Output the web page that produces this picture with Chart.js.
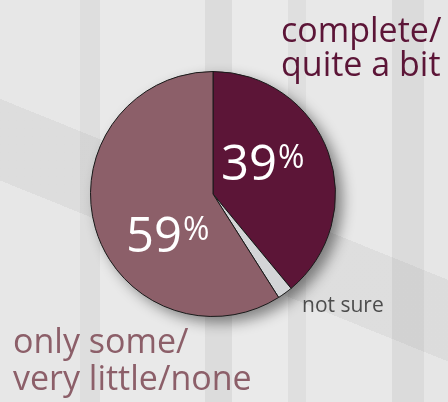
<!DOCTYPE html>
<html>
<head>
<meta charset="utf-8">
<script src="https://cdn.jsdelivr.net/npm/chart.js@4"></script>
<style>
  html, body { margin: 0; padding: 0; }
  body {
    width: 448px; height: 402px; overflow: hidden;
    background:
      linear-gradient(22deg, rgba(0,0,0,0) 0 38%, rgba(120,120,120,0.09) 38% 52%, rgba(0,0,0,0) 52%),
      linear-gradient(90deg,
        #e7e7e7 0 80px, #dedede 80px 100px, #e9e9e9 100px 205px, #dcdcdc 205px 232px,
        #eaeaea 232px 288px, #dfdfdf 288px 306px, #e8e8e8 306px 392px, #dbdbdb 392px 424px, #e6e6e6 424px);
  }
  #wrap { position: relative; width: 448px; height: 402px; }
</style>
</head>
<body>
<div id="wrap"><canvas id="pieChart" width="448" height="402"></canvas></div>
<script>
// Share of respondents
const categories = ['complete/quite a bit', 'not sure', 'only some/very little/none'];
const values = [39, 2, 59];
const sliceColors = ['#5c1537', '#d3d5d7', '#8c5f69'];

// shadow behind the pie
const pieShadow = {
    id: 'pieShadow',
    beforeDatasetsDraw(chart) {
        const arc = chart.getDatasetMeta(0).data[0];
        if (!arc) return;
        const ctx = chart.ctx;
        ctx.save();
        ctx.shadowColor = 'rgba(0,0,0,0.45)';
        ctx.shadowBlur = 14;
        ctx.shadowOffsetX = 7;
        ctx.shadowOffsetY = 6;
        ctx.fillStyle = '#888';
        ctx.beginPath();
        ctx.arc(arc.x, arc.y, arc.outerRadius, 0, Math.PI * 2);
        ctx.fill();
        ctx.restore();
    }
};

// slice and outside labels
const pieLabels = {
    id: 'pieLabels',
    afterDatasetsDraw(chart) {
        const meta = chart.getDatasetMeta(0);
        const cx = meta.data[0].x, cy = meta.data[0].y;
        const ctx = chart.ctx;
        ctx.save();
        ctx.textBaseline = 'alphabetic';
        ctx.textAlign = 'left';

        function pct(v, x, y) {
            ctx.fillStyle = '#ffffff';
            ctx.font = '49px "Open Sans"';
            const t = String(v);
            ctx.fillText(t, x, y);
            const w = ctx.measureText(t).width;
            ctx.font = '32px "Open Sans"';
            ctx.fillText('%', x + w + 1, y - 12);
        }
        pct(values[0], cx + 8, cy - 14);
        pct(values[2], cx - 87, cy + 58);

        ctx.fillStyle = '#5c1537';
        ctx.font = '34px "Open Sans"';
        ctx.fillText('complete/', 281, 42);
        ctx.fillText('quite a bit', 281, 76);

        ctx.fillStyle = '#8c5f69';
        ctx.fillText('only some/', 13, 353);
        ctx.fillText('very little/none', 13, 390);

        ctx.fillStyle = '#4d4d4d';
        ctx.font = '21px "Open Sans"';
        ctx.fillText('not sure', 302, 312);
        ctx.restore();
    }
};

new Chart(document.getElementById('pieChart').getContext('2d'), {
    type: 'pie',
    data: {
        labels: categories,
        datasets: [{
            data: values,
            backgroundColor: sliceColors,
            borderColor: '#1a1a1a',
            borderWidth: 1
        }]
    },
    options: {
        responsive: false,
        animation: false,
        layout: { padding: { left: 90, right: 112, top: 71, bottom: 85 } },
        plugins: {
            legend: { display: false },
            tooltip: { enabled: false }
        }
    },
    plugins: [pieShadow, pieLabels]
});
</script>
</body>
</html>
